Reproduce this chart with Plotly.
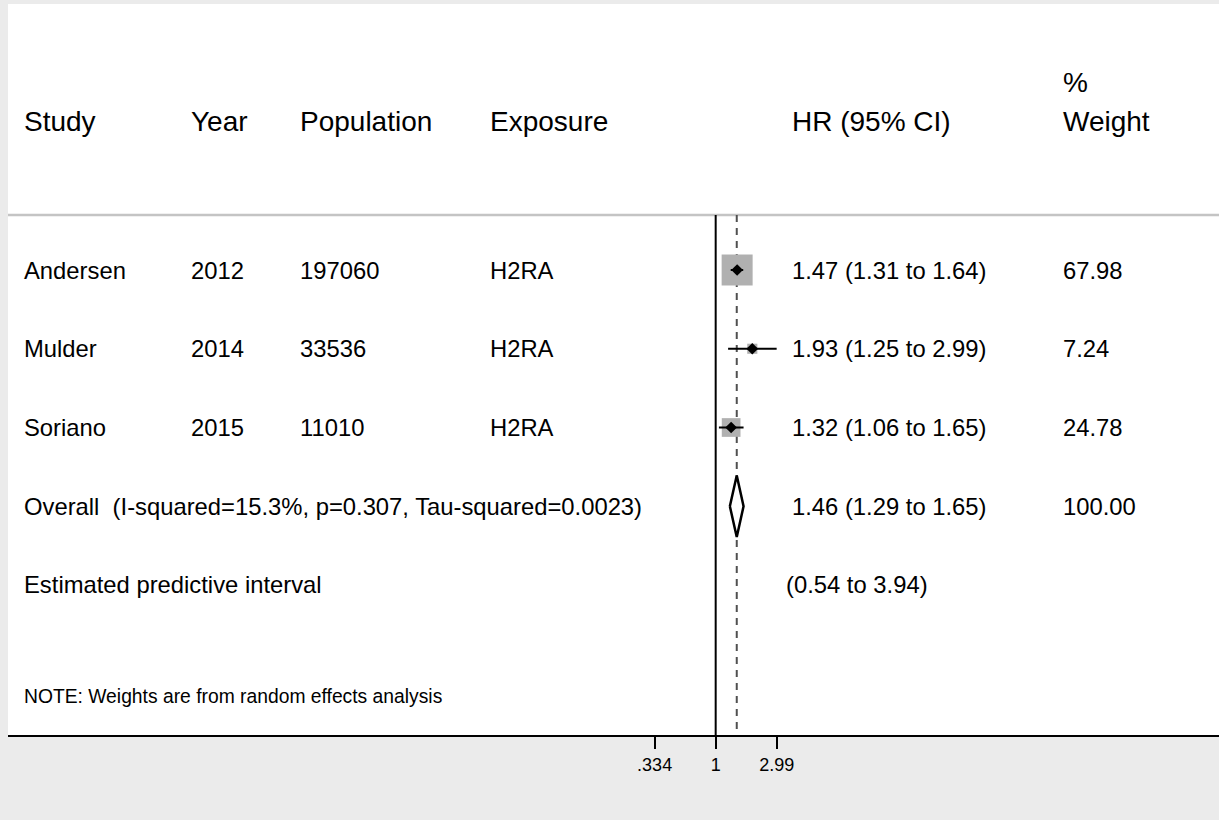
import numpy as np
import plotly.graph_objects as go

# ---- study data ----
studies = ["Andersen", "Mulder", "Soriano"]
years = ["2012", "2014", "2015"]
population = ["197060", "33536", "11010"]
exposure = ["H2RA", "H2RA", "H2RA"]
hr = [1.47, 1.93, 1.32]
ci_lo = [1.31, 1.25, 1.06]
ci_hi = [1.64, 2.99, 1.65]
weights = [67.98, 7.24, 24.78]

# pooled random-effects estimate
overall_hr = 1.46
overall_lo = 1.29
overall_hi = 1.65
overall_weight = 100.00
overall_label = "Overall  (I-squared=15.3%, p=0.307, Tau-squared=0.0023)"
pred_lo = 0.54
pred_hi = 3.94
note_text = "NOTE: Weights are from random effects analysis"

tick_vals = [0.334, 1, 2.99]
tick_text = [".334", "1", "2.99"]

# column headers and their left edges (pixels from the plot's left edge)
headers = ["Study", "Year", "Population", "Exposure", "HR (95% CI)", "Weight"]
col_x = [14, 181, 290, 480, 782, 1053]

FONT = "Liberation Sans, Arial, Helvetica, sans-serif"
PLOT_W = 1211
L_MARGIN, R_MARGIN, T_MARGIN, B_MARGIN = 8, 0, 4, 85
HEAD_SIZE, ROW_SIZE, NOTE_SIZE, TICK_SIZE = 28, 23.8, 19.3, 18

# row layout (row index along reversed y axis)
n = len(studies)
study_rows = list(range(n))
overall_row = n
pred_row = n + 1
note_row = n + 2.42
header_row = -1.88
pct_row = -2.375
sep_row = -0.70
y_top, y_bottom = -3.378, 5.905


def px(x):
    return x / PLOT_W


def fmt_ci(e, lo, hi):
    return f"{e:.2f} ({lo:.2f} to {hi:.2f})"


fig = go.Figure()

# weight boxes, side proportional to sqrt(weight)
wmax = max(weights)
box_sizes = [31 * np.sqrt(w / wmax) for w in weights]
fig.add_trace(go.Scatter(
    x=hr, y=study_rows, mode="markers",
    marker=dict(symbol="square", size=box_sizes, color="#b0b0b0",
                opacity=1, line=dict(width=0)),
    hoverinfo="skip", showlegend=False,
))

# point estimates with confidence intervals
fig.add_trace(go.Scatter(
    x=hr, y=study_rows, mode="markers",
    marker=dict(symbol="diamond", size=9, color="black"),
    error_x=dict(type="data", symmetric=False,
                 array=[h - e for e, h in zip(hr, ci_hi)],
                 arrayminus=[e - l for e, l in zip(hr, ci_lo)],
                 color="black", thickness=2, width=0),
    hoverinfo="skip", showlegend=False,
))

# pooled diamond
dh = 0.39
fig.add_trace(go.Scatter(
    x=[overall_lo, overall_hr, overall_hi, overall_hr, overall_lo],
    y=[overall_row, overall_row - dh, overall_row, overall_row + dh, overall_row],
    mode="lines", line=dict(color="black", width=2.5),
    fill="toself", fillcolor="white",
    hoverinfo="skip", showlegend=False,
))

shapes = [
    # header separator
    dict(type="line", xref="paper", yref="y", x0=0, x1=1, y0=sep_row, y1=sep_row,
         line=dict(color="#c4c4c4", width=2.5), layer="below"),
    # line of no effect
    dict(type="line", xref="x", yref="y", x0=1, x1=1, y0=sep_row, y1=y_bottom,
         line=dict(color="black", width=2), layer="below"),
    # pooled estimate reference
    dict(type="line", xref="x", yref="y", x0=overall_hr, x1=overall_hr,
         y0=sep_row, y1=y_bottom,
         line=dict(color="#505050", width=2, dash="7px,6px"), layer="below"),
]

ann = []


def add_text(x, y, text, size):
    ann.append(dict(x=px(x), y=y, xref="paper", yref="y", text=text,
                    showarrow=False, xanchor="left", yanchor="middle",
                    align="left", font=dict(size=size, color="black", family=FONT)))


# headers
for hx, htxt in zip(col_x, headers):
    add_text(hx, header_row, htxt, HEAD_SIZE)
add_text(col_x[5], pct_row, "%", HEAD_SIZE)

# study rows
for i in range(n):
    r = study_rows[i]
    add_text(col_x[0], r, studies[i], ROW_SIZE)
    add_text(col_x[1], r, years[i], ROW_SIZE)
    add_text(col_x[2], r, population[i], ROW_SIZE)
    add_text(col_x[3], r, exposure[i], ROW_SIZE)
    add_text(col_x[4], r, fmt_ci(hr[i], ci_lo[i], ci_hi[i]), ROW_SIZE)
    add_text(col_x[5], r, f"{weights[i]:.2f}", ROW_SIZE)

add_text(col_x[0], overall_row, overall_label, ROW_SIZE)
add_text(col_x[4], overall_row, fmt_ci(overall_hr, overall_lo, overall_hi), ROW_SIZE)
add_text(col_x[5], overall_row, f"{overall_weight:.2f}", ROW_SIZE)

add_text(col_x[0], pred_row, "Estimated predictive interval", ROW_SIZE)
add_text(col_x[4] - 6, pred_row, f"({pred_lo:.2f} to {pred_hi:.2f})", ROW_SIZE)

add_text(col_x[0], note_row, note_text, NOTE_SIZE)

fig.update_layout(
    width=1219, height=820,
    margin=dict(l=L_MARGIN, r=R_MARGIN, t=T_MARGIN, b=B_MARGIN, pad=0),
    paper_bgcolor="#ebebeb", plot_bgcolor="white",
    font=dict(family=FONT, color="black"),
    shapes=shapes, annotations=ann,
    showlegend=False,
)
fig.update_xaxes(
    type="log", range=[-5.520, 3.926],
    tickvals=tick_vals, ticktext=tick_text,
    ticks="outside", ticklen=12, tickwidth=2, tickcolor="black",
    showline=True, linecolor="black", linewidth=2,
    showgrid=False, zeroline=False,
    tickfont=dict(size=TICK_SIZE, color="black", family=FONT),
)
fig.update_yaxes(
    range=[y_bottom, y_top], visible=False, showgrid=False, zeroline=False,
)

fig.write_html("out.html")
